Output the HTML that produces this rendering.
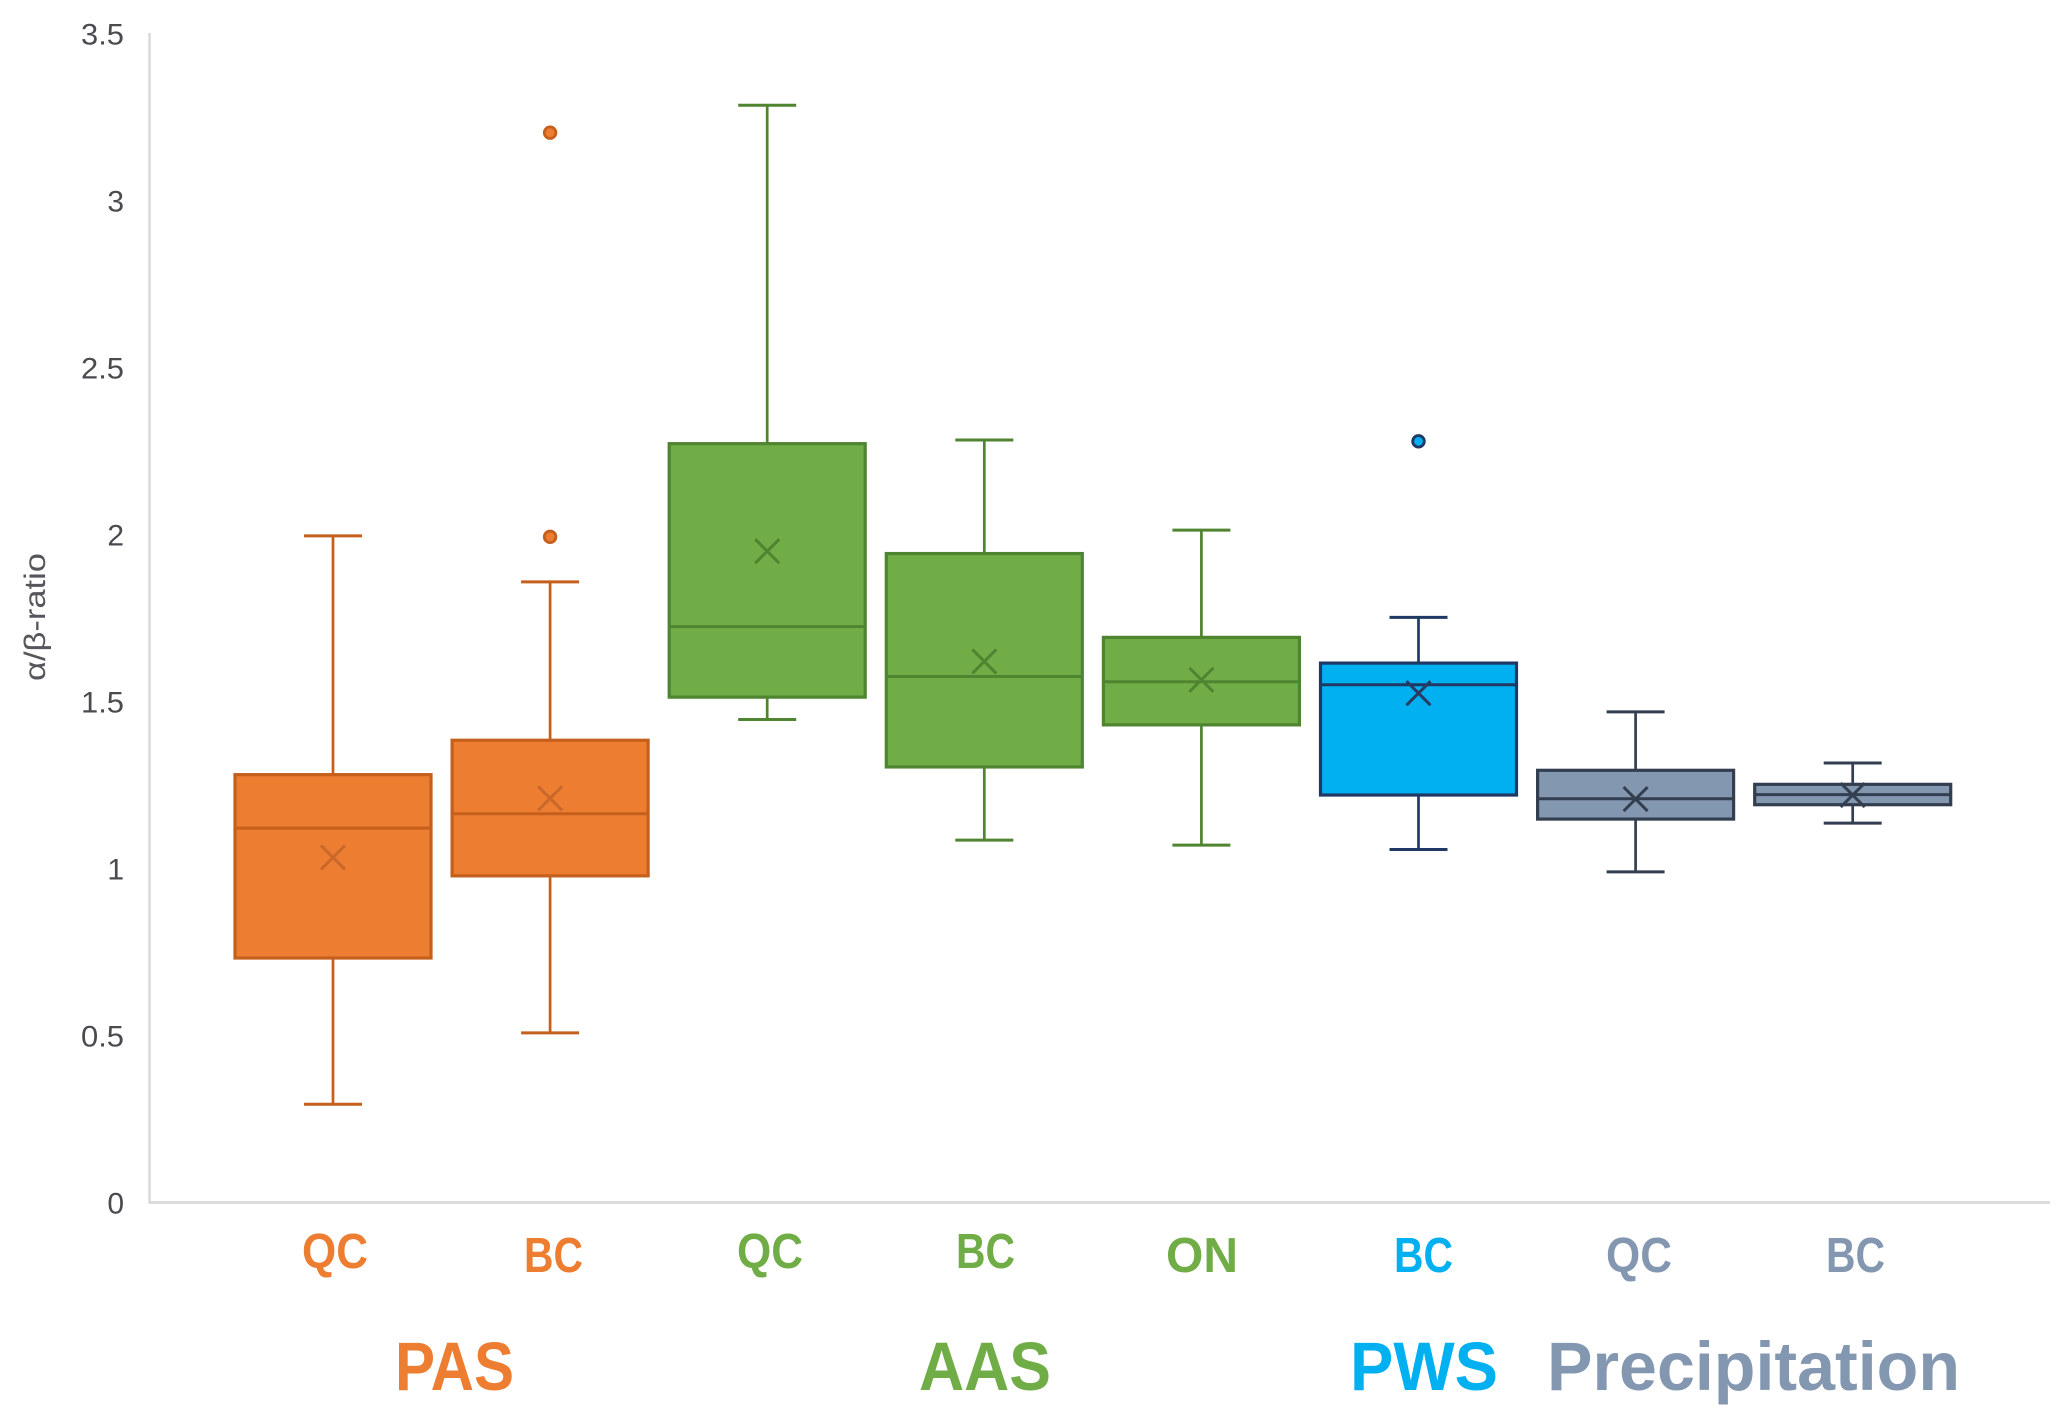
<!DOCTYPE html>
<html lang="en">
<head>
<meta charset="utf-8">
<title>α/β-ratio box plot</title>
<style>
html,body{margin:0;padding:0;background:#fff;}
svg{display:block;}
text{font-family:"Liberation Sans","DejaVu Sans",sans-serif;}
.cat{font-weight:700;font-size:49px;}
.grp{font-weight:700;font-size:69px;}
</style>
</head>
<body>
<svg id="chart" xmlns="http://www.w3.org/2000/svg" width="2067" height="1426" viewBox="0 0 2067 1426">
  <rect width="2067" height="1426" fill="#ffffff"/>
  <g id="axes"></g>
  <g id="marks"></g>
  <text transform="translate(45,617) rotate(-90)" text-anchor="middle" font-size="30" fill="#56565c" textLength="128" lengthAdjust="spacingAndGlyphs">α/β-ratio</text>

  <text class="cat" x="302" y="1268" fill="#ED7D31" textLength="66" lengthAdjust="spacingAndGlyphs">QC</text>
  <text class="cat" x="524" y="1272" fill="#ED7D31" textLength="59" lengthAdjust="spacingAndGlyphs">BC</text>
  <text class="cat" x="737" y="1268" fill="#70AD47" textLength="66" lengthAdjust="spacingAndGlyphs">QC</text>
  <text class="cat" x="956" y="1268" fill="#70AD47" textLength="59" lengthAdjust="spacingAndGlyphs">BC</text>
  <text class="cat" x="1166" y="1272" fill="#70AD47" textLength="72" lengthAdjust="spacingAndGlyphs">ON</text>
  <text class="cat" x="1394" y="1272" fill="#00B0F0" textLength="59" lengthAdjust="spacingAndGlyphs">BC</text>
  <text class="cat" x="1606" y="1272" fill="#8497B0" textLength="66" lengthAdjust="spacingAndGlyphs">QC</text>
  <text class="cat" x="1826" y="1272" fill="#8497B0" textLength="59" lengthAdjust="spacingAndGlyphs">BC</text>

  <text class="grp" x="395" y="1390" fill="#ED7D31" textLength="119" lengthAdjust="spacingAndGlyphs">PAS</text>
  <text class="grp" x="919" y="1390" fill="#70AD47" textLength="132" lengthAdjust="spacingAndGlyphs">AAS</text>
  <text class="grp" x="1350" y="1390" fill="#00B0F0" textLength="148" lengthAdjust="spacingAndGlyphs">PWS</text>
  <text class="grp" x="1547" y="1390" fill="#8497B0" textLength="413" lengthAdjust="spacingAndGlyphs">Precipitation</text>
</svg>

<script>
// Chart data
const categories  = ["PAS QC", "PAS BC", "AAS QC", "AAS BC", "AAS ON", "PWS BC", "Precipitation QC", "Precipitation BC"];
const groups      = ["PAS", "PAS", "AAS", "AAS", "AAS", "PWS", "Precipitation", "Precipitation"];
const whiskerHigh = [1.996, 1.858, 3.285, 2.283, 2.013, 1.752, 1.469, 1.316];
const q3Values    = [1.281, 1.384, 2.272, 1.943, 1.692, 1.615, 1.294, 1.252];
const medians     = [1.121, 1.164, 1.724, 1.575, 1.559, 1.550, 1.209, 1.221];
const q1Values    = [0.732, 0.978, 1.513, 1.304, 1.430, 1.220, 1.148, 1.191];
const whiskerLow  = [0.294, 0.508, 1.446, 1.085, 1.070, 1.057, 0.990, 1.136];
const means       = [1.033, 1.210, 1.950, 1.620, 1.565, 1.525, 1.208, 1.220];
const outliers    = [[], [1.993, 3.203], [], [], [], [2.279], [], []];
const yTickValues = [0, 0.5, 1, 1.5, 2, 2.5, 3, 3.5];
const yTickLabels = ["0", "0.5", "1", "1.5", "2", "2.5", "3", "3.5"];

const groupStyles = {
  "PAS":           {fill: "#ED7D31", stroke: "#C55F1C", mean: "#C9682A"},
  "AAS":           {fill: "#70AD47", stroke: "#4F8430", mean: "#4F8430"},
  "PWS":           {fill: "#00B0F0", stroke: "#1F3864", mean: "#2A3B63"},
  "Precipitation": {fill: "#8497B0", stroke: "#333F50", mean: "#333F50"}
};

const NS = "http://www.w3.org/2000/svg";
const plot = {left: 149.5, right: 2050, top: 33, bottom: 1202.5};
const yUnit = 334;
const firstCenter = 333;
const step = 217.1;
const boxWidth = 196;
const capWidth = 58;
const meanHalf = 12;

function yScale(v) { return plot.bottom - v * yUnit; }
function xScale(i) { return firstCenter + step * i; }

function make(tag, attrs, parent) {
  const node = document.createElementNS(NS, tag);
  for (const k in attrs) node.setAttribute(k, attrs[k]);
  parent.appendChild(node);
  return node;
}

const axes = document.getElementById("axes");
const marks = document.getElementById("marks");

const yAxisLine = make("line", {x1: plot.left, x2: plot.left, y1: plot.top, y2: plot.bottom, stroke: "#D9D9D9", "stroke-width": 2.4}, axes);



const xAxisLine = make("line", {x1: plot.left - 1, x2: plot.right, y1: plot.bottom, y2: plot.bottom, stroke: "#D9D9D9", "stroke-width": 2.8}, axes);



yTickValues.forEach(function (v, i) {
  const tick = make("text", {
    x: 124, y: yScale(v) + 11, "text-anchor": "end", "font-size": 30, fill: "#4A4A50"
  }, axes);
  if (yTickLabels[i].length > 1) {
    tick.setAttribute("textLength", 43);
    tick.setAttribute("lengthAdjust", "spacingAndGlyphs");
  }
  tick.textContent = yTickLabels[i];
  
  
});

categories.forEach(function (cat, i) {
  const st = groupStyles[groups[i]];
  const cx = xScale(i);

  const g = make("g", {}, marks);
  
  
  g.setAttribute('aria-label', cat);

  const whisker = make("line", {
    x1: cx, x2: cx, y1: yScale(whiskerHigh[i]), y2: yScale(whiskerLow[i]),
    stroke: st.stroke, "stroke-width": 2.7
  }, g);
  
  

  const capHigh = make("line", {
    x1: cx - capWidth / 2, x2: cx + capWidth / 2, y1: yScale(whiskerHigh[i]), y2: yScale(whiskerHigh[i]),
    stroke: st.stroke, "stroke-width": 3
  }, g);
  
  

  const capLow = make("line", {
    x1: cx - capWidth / 2, x2: cx + capWidth / 2, y1: yScale(whiskerLow[i]), y2: yScale(whiskerLow[i]),
    stroke: st.stroke, "stroke-width": 3
  }, g);
  
  

  const box = make("rect", {
    x: cx - boxWidth / 2, width: boxWidth,
    y: yScale(q3Values[i]), height: yScale(q1Values[i]) - yScale(q3Values[i]),
    fill: st.fill, stroke: st.stroke, "stroke-width": 3.2
  }, g);
  
  

  const median = make("line", {
    x1: cx - boxWidth / 2, x2: cx + boxWidth / 2, y1: yScale(medians[i]), y2: yScale(medians[i]),
    stroke: st.stroke, "stroke-width": 3
  }, g);
  
  

  const my = yScale(means[i]);
  const meanMark = make("path", {
    d: "M" + (cx - meanHalf) + " " + (my - meanHalf) + "L" + (cx + meanHalf) + " " + (my + meanHalf) +
       "M" + (cx + meanHalf) + " " + (my - meanHalf) + "L" + (cx - meanHalf) + " " + (my + meanHalf),
    fill: "none", stroke: st.mean, "stroke-width": 3
  }, g);
  
  

  outliers[i].forEach(function (v) {
    const dot = make("circle", {
      cx: cx, cy: yScale(v), r: 5.8, fill: st.fill, stroke: st.stroke, "stroke-width": 2.8
    }, g);
    
    
  });
});
</script>
</body>
</html>
